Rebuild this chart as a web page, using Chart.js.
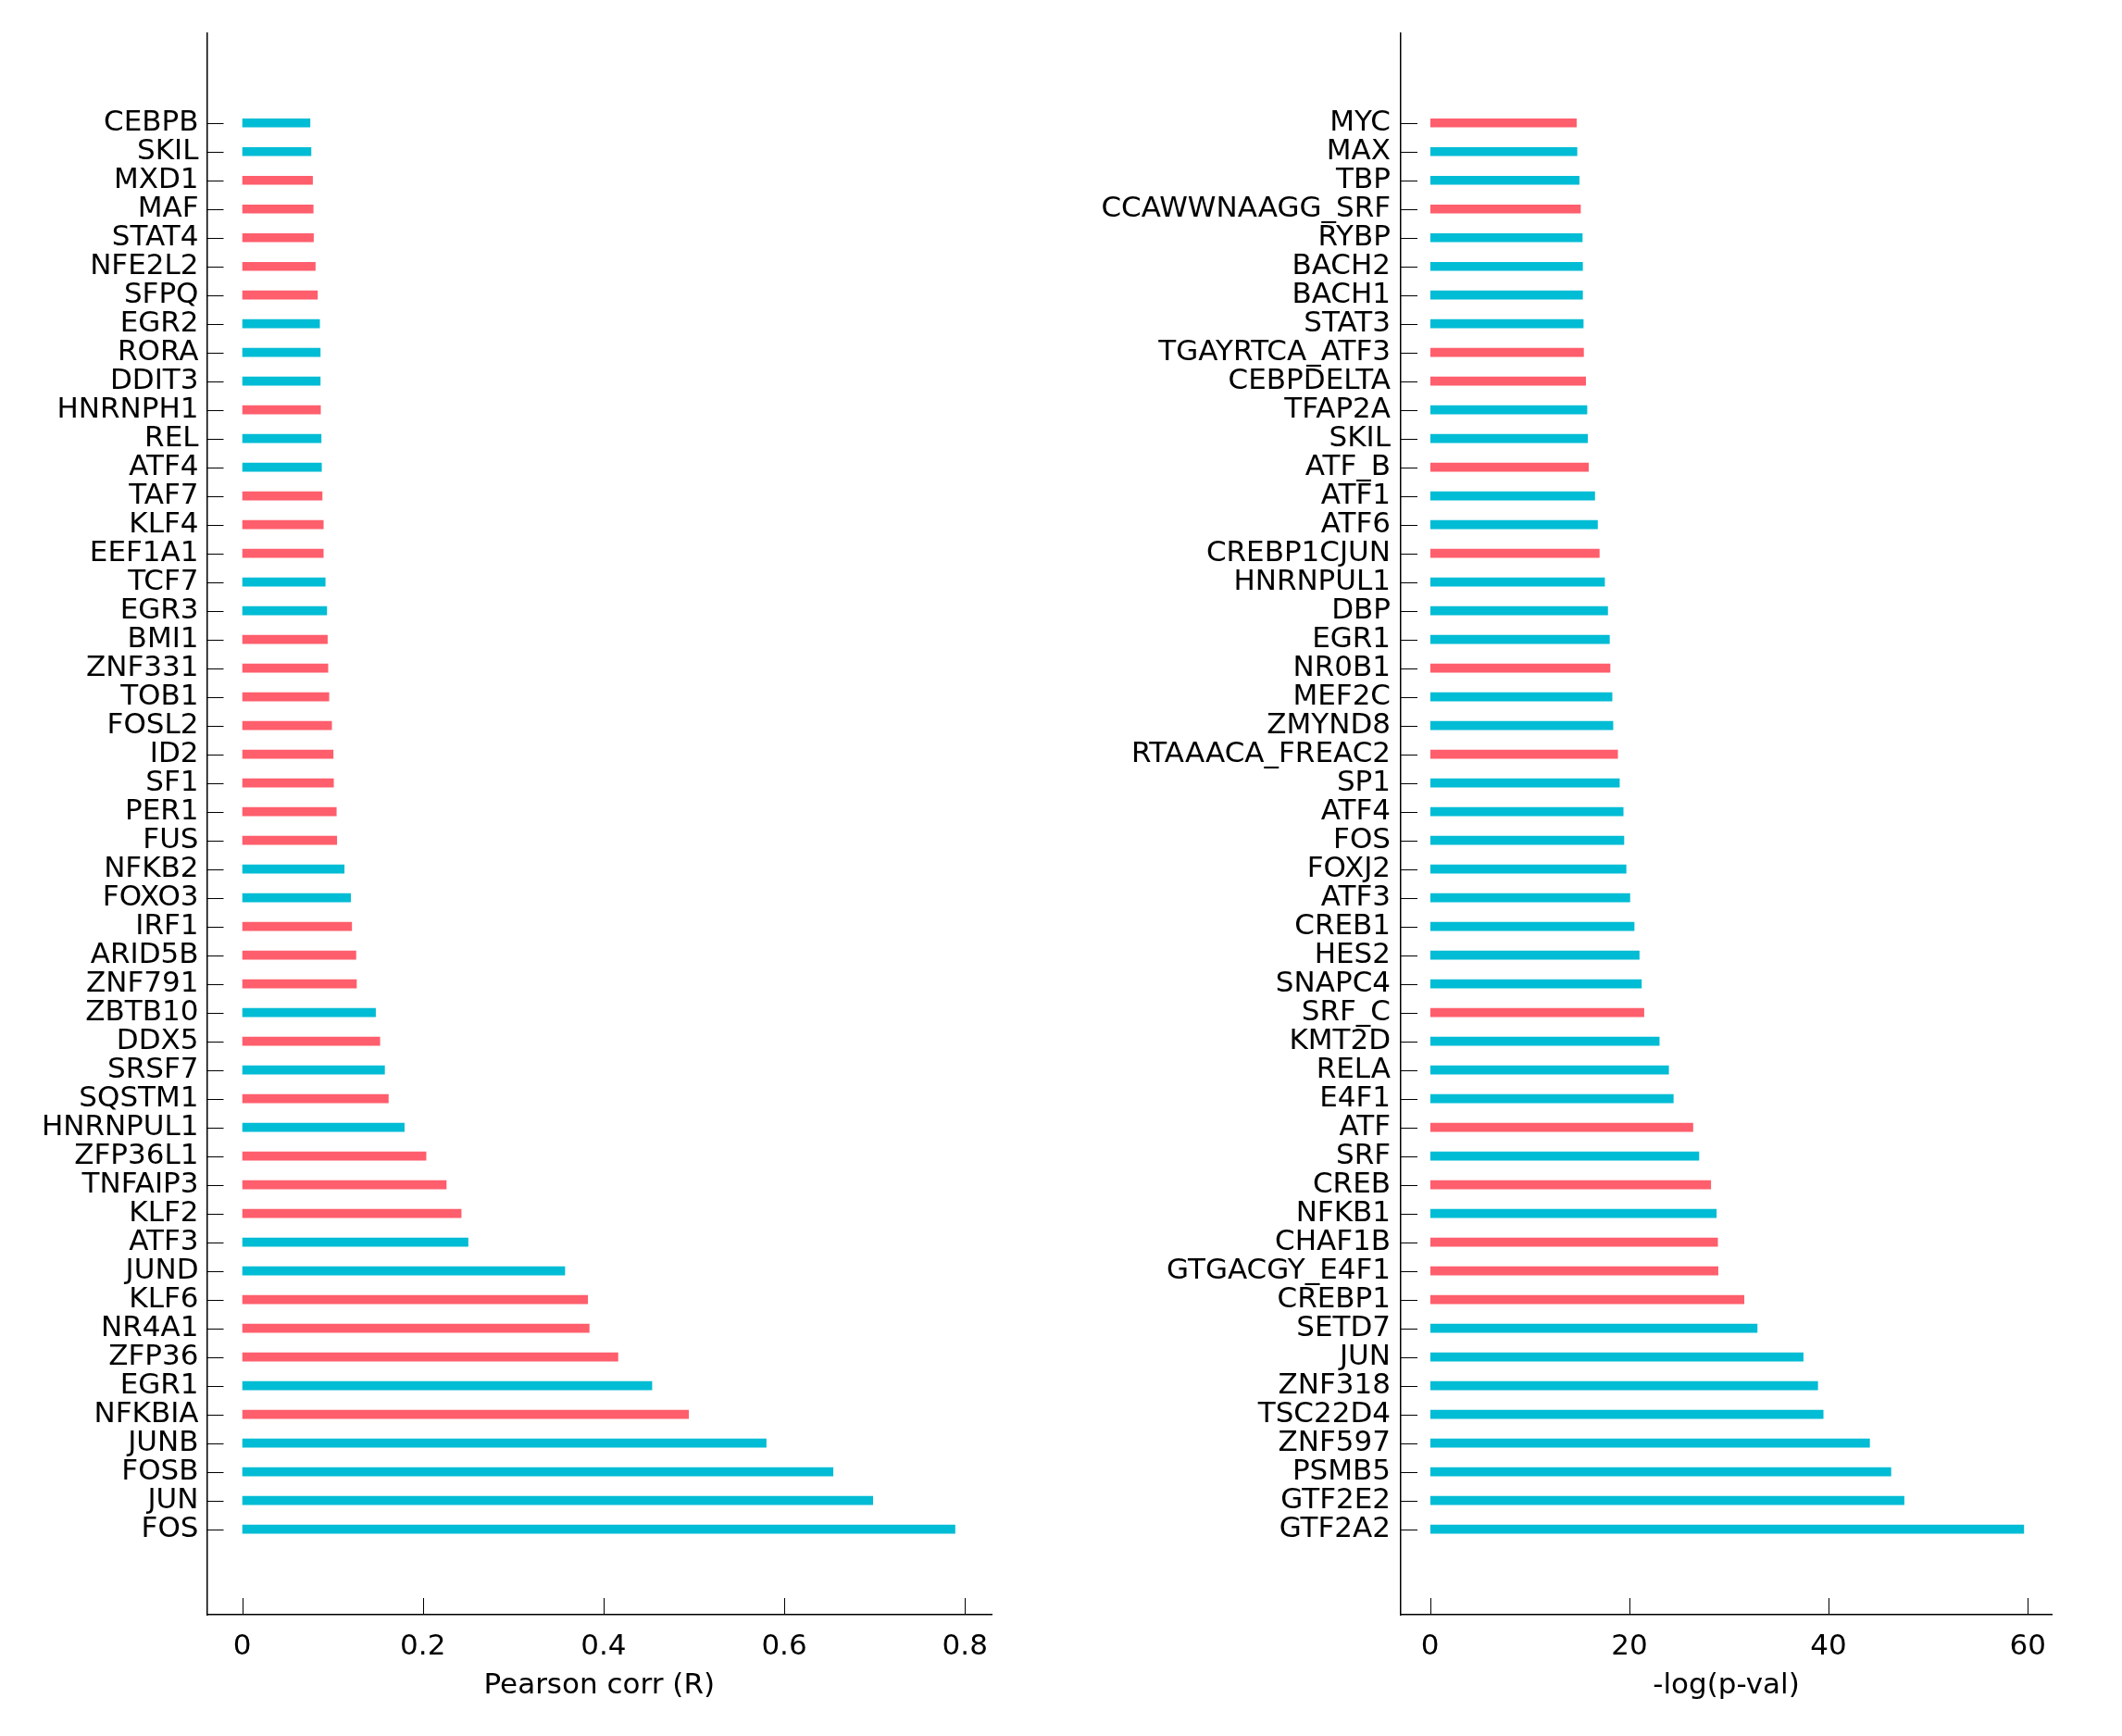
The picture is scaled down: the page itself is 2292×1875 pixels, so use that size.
<!DOCTYPE html>
<html><head><meta charset="utf-8">
<script src="https://cdn.jsdelivr.net/npm/chart.js@4.4.0/dist/chart.umd.min.js"></script>
<style>
html,body{margin:0;padding:0;background:#fff;width:2292px;height:1875px;overflow:hidden}
canvas{position:absolute;top:0}
#c1{left:0}
#c2{left:1100px}
</style></head><body>
<canvas id="c1" width="1100" height="1875"></canvas>
<canvas id="c2" width="1192" height="1875"></canvas>
<script>
// ---- Left panel: Pearson correlation ----
const leftLabels = ['CEBPB','SKIL','MXD1','MAF','STAT4','NFE2L2','SFPQ','EGR2','RORA','DDIT3','HNRNPH1','REL','ATF4','TAF7','KLF4','EEF1A1','TCF7','EGR3','BMI1','ZNF331','TOB1','FOSL2','ID2','SF1','PER1','FUS','NFKB2','FOXO3','IRF1','ARID5B','ZNF791','ZBTB10','DDX5','SRSF7','SQSTM1','HNRNPUL1','ZFP36L1','TNFAIP3','KLF2','ATF3','JUND','KLF6','NR4A1','ZFP36','EGR1','NFKBIA','JUNB','FOSB','JUN','FOS'];
const leftValues = [0.0751,0.0762,0.0779,0.0786,0.0789,0.0809,0.0833,0.0857,0.0864,0.0864,0.0867,0.0874,0.0878,0.0885,0.0898,0.0898,0.0919,0.0936,0.0943,0.0949,0.0960,0.0990,0.1007,0.1011,0.1042,0.1047,0.1129,0.1200,0.1212,0.1259,0.1265,0.1476,0.1524,0.1576,0.1618,0.1794,0.2035,0.2259,0.2424,0.2500,0.3571,0.3824,0.3841,0.4159,0.4535,0.4941,0.5800,0.6540,0.6980,0.7890];
const leftGroups = ['b','b','r','r','r','r','r','b','b','b','r','b','b','r','r','r','b','b','r','r','r','r','r','r','r','r','b','b','r','r','r','b','r','b','r','b','r','r','r','b','b','r','r','r','b','r','b','b','b','b'];
const leftXTicks = [0,0.2,0.4,0.6,0.8];
const leftXTickLabels = ['0','0.2','0.4','0.6','0.8'];
const leftTitle = 'Pearson corr (R)';

// ---- Right panel: -log(p-val) ----
const rightLabels = ['MYC','MAX','TBP','CCAWWNAAGG_SRF','RYBP','BACH2','BACH1','STAT3','TGAYRTCA_ATF3','CEBPDELTA','TFAP2A','SKIL','ATF_B','ATF1','ATF6','CREBP1CJUN','HNRNPUL1','DBP','EGR1','NR0B1','MEF2C','ZMYND8','RTAAACA_FREAC2','SP1','ATF4','FOS','FOXJ2','ATF3','CREB1','HES2','SNAPC4','SRF_C','KMT2D','RELA','E4F1','ATF','SRF','CREB','NFKB1','CHAF1B','GTGACGY_E4F1','CREBP1','SETD7','JUN','ZNF318','TSC22D4','ZNF597','PSMB5','GTF2E2','GTF2A2'];
const rightValues = [14.68,14.74,14.96,15.09,15.27,15.30,15.30,15.37,15.40,15.61,15.74,15.80,15.89,16.52,16.80,16.98,17.51,17.82,18.00,18.06,18.26,18.35,18.82,19.00,19.38,19.45,19.67,20.05,20.48,20.99,21.21,21.46,23.00,23.94,24.41,26.38,26.98,28.17,28.73,28.86,28.90,31.51,32.83,37.45,38.91,39.46,44.12,46.26,47.58,59.60];
const rightGroups = ['r','b','b','r','b','b','b','b','r','r','b','b','r','b','b','r','b','b','b','r','b','b','r','b','b','b','b','b','b','b','b','r','b','b','b','r','b','r','b','r','r','r','b','b','b','b','b','b','b','b'];
const rightXTicks = [0,20,40,60];
const rightXTickLabels = ['0','20','40','60'];
const rightTitle = '-log(p-val)';

const COLORS = { b: '#00BCD4', r: '#FF5E6C' };
const FONT = 'DejaVu Sans';
Chart.defaults.font.family = FONT;
Chart.defaults.color = '#000';

const innerTicks = {
  id: 'innerTicks',
  afterDraw(chart) {
    const {ctx, chartArea: a, scales: {x, y}} = chart;
    ctx.save();
    ctx.strokeStyle = '#000';
    ctx.lineWidth = 1;
    ctx.beginPath();
    y.ticks.forEach(t => {
      const p = Math.round(y.getPixelForValue(t.value)) + 0.5;
      ctx.moveTo(a.left, p); ctx.lineTo(a.left + 18, p);
    });
    x.ticks.forEach(t => {
      const p = Math.round(x.getPixelForValue(t.value)) + 0.5;
      ctx.moveTo(p, a.bottom); ctx.lineTo(p, a.bottom - 18);
    });
    ctx.stroke();
    ctx.restore();
  }
};

function makeChart(id, labels, values, groups, xMin, xMax, xTicks, xTickLabels, title, yWidth, padRight, yPad) {
  const n = labels.length;
  return new Chart(document.getElementById(id), {
    type: 'bar',
    data: {
      datasets: [{
        data: values.map((v, i) => ({x: v, y: i})),
        backgroundColor: groups.map(g => COLORS[g]),
        borderWidth: 0,
        barThickness: 9
      }]
    },
    options: {
      indexAxis: 'y',
      responsive: false,
      animation: false,
      layout: { padding: { top: 36, right: padRight, bottom: 0, left: 0 } },
      plugins: { legend: { display: false }, tooltip: { enabled: false } },
      scales: {
        y: {
          type: 'linear',
          reverse: true,
          offset: false,
          min: -3.12,
          max: (n - 1) + 2.98,
          afterBuildTicks: (axis) => { axis.ticks = labels.map((_, i) => ({ value: i })); },
          afterFit: (scale) => { scale.width = yWidth; },
          ticks: {
            autoSkip: false,
            padding: yPad,
            font: { size: 31 },
            color: '#000',
            callback: (v) => labels[v]
          },
          grid: { display: true, offset: false, drawOnChartArea: false, drawTicks: false },
          border: { display: true, color: '#000', width: 1.5 }
        },
        x: {
          type: 'linear',
          min: xMin,
          max: xMax,
          afterBuildTicks: (axis) => { axis.ticks = xTicks.map(v => ({ value: v })); },
          afterFit: (scale) => { scale.height = 131; },
          ticks: {
            autoSkip: false,
            padding: 16,
            maxRotation: 0,
            font: { size: 31 },
            color: '#000',
            callback: (v, i) => xTickLabels[i]
          },
          grid: { display: true, drawOnChartArea: false, drawTicks: false },
          border: { display: true, color: '#000', width: 1.5 },
          title: {
            display: true,
            text: title,
            font: { size: 31 },
            color: '#000',
            padding: { top: 0, bottom: 35 }
          }
        }
      }
    },
    plugins: [innerTicks]
  });
}

makeChart('c1', leftLabels, leftValues, leftGroups, -0.039, 0.8295, leftXTicks, leftXTickLabels, leftTitle, 223.5, 29, 9);
makeChart('c2', rightLabels, rightValues, rightGroups, -2.95, 62.4, rightXTicks, rightXTickLabels, rightTitle, 413, 76, 11);
</script>
</body></html>
